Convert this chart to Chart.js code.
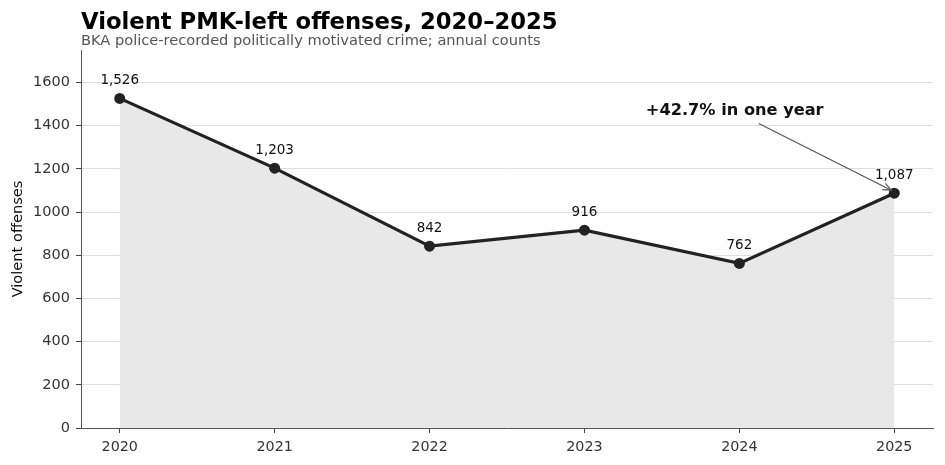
<!DOCTYPE html>
<html>
<head>
<meta charset="utf-8">
<script src="https://cdn.jsdelivr.net/npm/chart.js@4/dist/chart.umd.min.js"></script>
<style>
  html, body { margin: 0; padding: 0; background: #fff; }
  #wrap { width: 945px; height: 465px; }
</style>
</head>
<body>
<div id="wrap"><canvas id="chart" width="945" height="465"></canvas></div>
<script>
// Chart data
const years = [2020, 2021, 2022, 2023, 2024, 2025];
const offenses = [1526, 1203, 842, 916, 762, 1087];
const yTicks = [0, 200, 400, 600, 800, 1000, 1200, 1400, 1600];

const titleText = 'Violent PMK-left offenses, 2020\u20132025';
const subtitleText = 'BKA police-recorded politically motivated crime; annual counts';
const noteText = '+42.7% in one year';

const FONT = '"DejaVu Sans", Verdana, sans-serif';

// titles, value labels and the arrow note
const decorations = {
    id: 'decorations',
    afterDatasetsDraw(chart) {
        const ctx = chart.ctx;
        const area = chart.chartArea;
        const xs = chart.scales.x, ys = chart.scales.y;
        ctx.save();

        ctx.fillStyle = '#000';
        ctx.font = 'bold 22.7px ' + FONT;
        ctx.textAlign = 'left';
        ctx.textBaseline = 'alphabetic';
        ctx.fillText(titleText, area.left, 29);
        ctx.fillStyle = '#555';
        ctx.font = '14.6px ' + FONT;
        ctx.fillText(subtitleText, area.left, 45);

        // value labels
        const meta = chart.getDatasetMeta(0);
        ctx.fillStyle = '#111';
        ctx.font = '13.5px ' + FONT;
        ctx.textAlign = 'center';
        meta.data.forEach((pt, i) => {
            ctx.fillText(offenses[i].toLocaleString('en-US'), pt.x, pt.y - 14);
        });

        // annotation
        const tx = xs.getPixelForValue(2023.97);
        const ty = ys.getPixelForValue(1470);
        ctx.fillStyle = '#111';
        ctx.font = 'bold 16.2px ' + FONT;
        ctx.textBaseline = 'middle';
        ctx.fillText(noteText, tx, ty);

        const last = meta.data[meta.data.length - 1];
        const sx = tx + 24, sy = ty + 13;
        const ex = last.x - 3, ey = last.y - 3;
        ctx.strokeStyle = '#555';
        ctx.lineWidth = 1.2;
        ctx.beginPath();
        ctx.moveTo(sx, sy);
        ctx.lineTo(ex, ey);
        ctx.stroke();
        const ang = Math.atan2(ey - sy, ex - sx);
        const hl = 9;
        ctx.beginPath();
        ctx.moveTo(ex - hl * Math.cos(ang - 0.4), ey - hl * Math.sin(ang - 0.4));
        ctx.lineTo(ex, ey);
        ctx.lineTo(ex - hl * Math.cos(ang + 0.4), ey - hl * Math.sin(ang + 0.4));
        ctx.stroke();

        ctx.restore();
    }
};

new Chart(document.getElementById('chart'), {
    type: 'line',
    data: {
        datasets: [{
            data: years.map((y, i) => ({ x: y, y: offenses[i] })),
            borderColor: '#222',
            borderWidth: 3.2,
            backgroundColor: '#e8e8e8',
            fill: 'origin',
            tension: 0,
            pointRadius: 5.5,
            pointBackgroundColor: '#222',
            pointBorderColor: '#222',
            pointBorderWidth: 0
        }]
    },
    options: {
        responsive: false,
        animation: false,
        devicePixelRatio: 1,
        layout: { padding: { top: 50, right: 12, left: 0, bottom: 0 } },
        plugins: {
            legend: { display: false },
            tooltip: { enabled: false }
        },
        scales: {
            x: {
                type: 'linear',
                min: 2019.75,
                max: 2025.25,
                afterBuildTicks: s => { s.ticks = years.map(v => ({ value: v })); },
                afterFit: s => { s.height = 37; },
                grid: { drawOnChartArea: false, tickLength: 5, tickColor: '#444' },
                border: { color: '#555', width: 1 },
                ticks: {
                    color: '#333',
                    font: { family: FONT, size: 14.3 },
                    padding: 6,
                    callback: v => String(v)
                }
            },
            y: {
                min: 0,
                max: 1750,
                afterBuildTicks: s => { s.ticks = yTicks.map(v => ({ value: v })); },
                afterFit: s => { s.width = 81; },
                grid: { color: '#dedede', tickLength: 5, tickColor: '#444' },
                border: { color: '#555', width: 1 },
                ticks: {
                    color: '#333',
                    font: { family: FONT, size: 14.5 },
                    padding: 6,
                    callback: v => String(v)
                },
                title: {
                    display: true,
                    text: 'Violent offenses',
                    color: '#111',
                    font: { family: FONT, size: 14.6 },
                    padding: { top: 9, bottom: 4 }
                }
            }
        }
    },
    plugins: [decorations]
});
</script>
</body>
</html>
